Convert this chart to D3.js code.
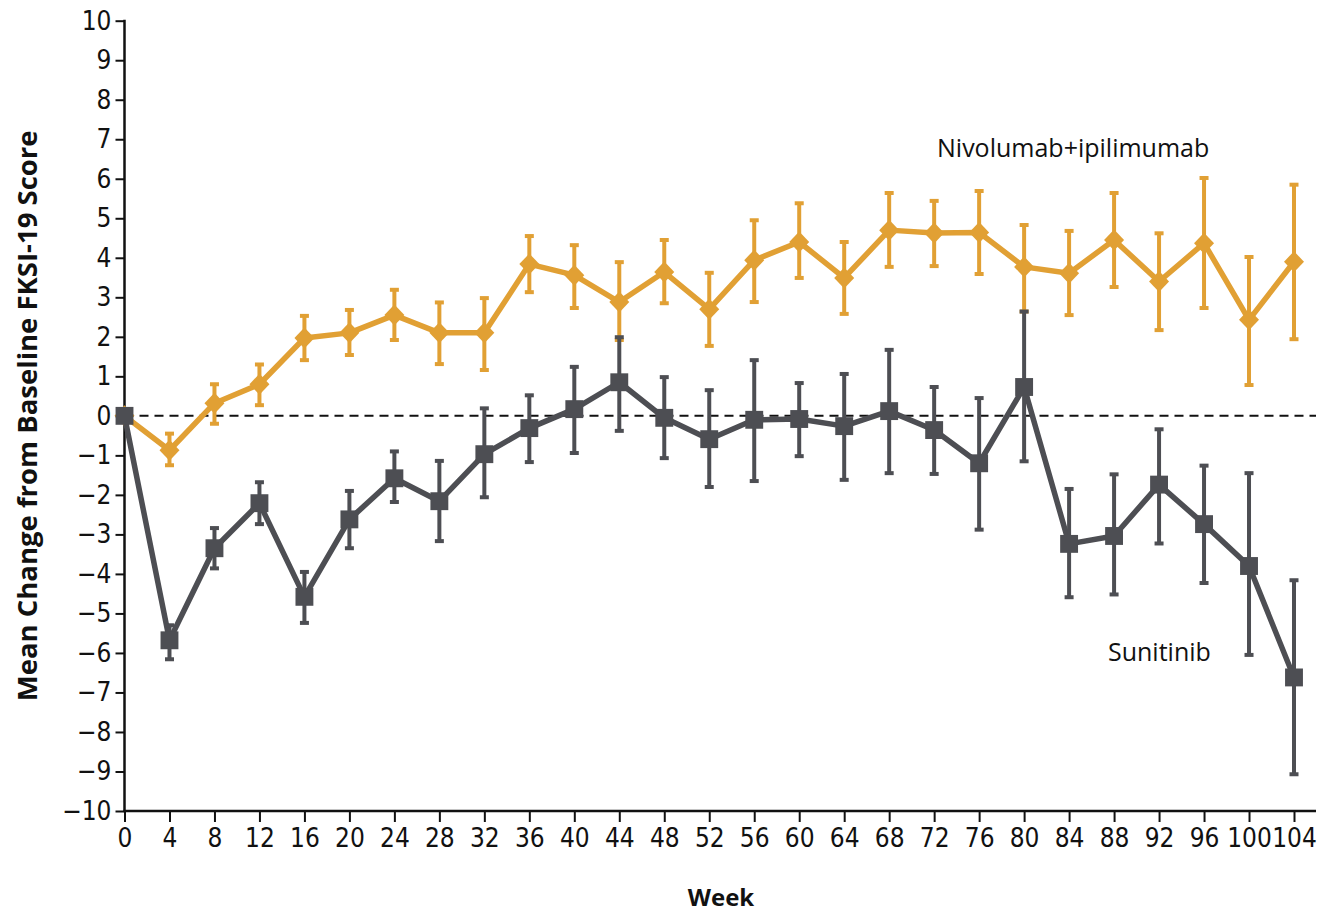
<!DOCTYPE html>
<html>
<head>
<meta charset="utf-8">
<script src="https://cdn.jsdelivr.net/npm/d3@7"></script>
<style>
  html, body { margin: 0; padding: 0; background: #ffffff; }
  svg { display: block; }
  .tick text { font-family: "Liberation Sans Narrow", "DejaVu Sans Condensed", sans-serif; font-size: 26px; fill: #111; }
  .title { font-family: "Open Sans", "DejaVu Sans", sans-serif; font-weight: 700; fill: #111; }
  .series-label { font-family: "Open Sans", "DejaVu Sans", sans-serif; fill: #111; }
</style>
</head>
<body>
<svg id="chart" width="1323" height="913"></svg>
<script>
// Assessment weeks
const weeks = [0, 4, 8, 12, 16, 20, 24, 28, 32, 36, 40, 44, 48, 52, 56, 60, 64, 68, 72, 76, 80, 84, 88, 92, 96, 100, 104];

// Nivolumab + ipilimumab: mean change and 95% CI bounds
const nivoMean  = [0, -0.87, 0.32, 0.80, 1.97, 2.10, 2.55, 2.10, 2.10, 3.84, 3.56, 2.88, 3.64, 2.70, 3.94, 4.40, 3.49, 4.70, 4.63, 4.64, 3.77, 3.61, 4.45, 3.40, 4.37, 2.43, 3.90];
const nivoUpper = [0, -0.45, 0.80, 1.30, 2.53, 2.68, 3.19, 2.87, 2.98, 4.55, 4.32, 3.89, 4.45, 3.62, 4.95, 5.38, 4.40, 5.64, 5.44, 5.69, 4.83, 4.68, 5.64, 4.62, 6.02, 4.02, 5.85];
const nivoLower = [0, -1.25, -0.20, 0.27, 1.41, 1.54, 1.92, 1.31, 1.16, 3.13, 2.73, 1.92, 2.85, 1.77, 2.88, 3.49, 2.58, 3.77, 3.79, 3.59, 2.64, 2.55, 3.26, 2.17, 2.73, 0.78, 1.94];

// Sunitinib: mean change and 95% CI bounds
const sunMean  = [0, -5.68, -3.35, -2.21, -4.58, -2.62, -1.58, -2.16, -0.97, -0.31, 0.17, 0.85, -0.05, -0.59, -0.10, -0.08, -0.26, 0.12, -0.36, -1.20, 0.73, -3.24, -3.04, -1.74, -2.74, -3.80, -6.62];
const sunUpper = [0, -5.30, -2.84, -1.68, -3.95, -1.90, -0.90, -1.14, 0.19, 0.52, 1.24, 1.99, 0.98, 0.65, 1.41, 0.83, 1.06, 1.67, 0.73, 0.45, 2.64, -1.85, -1.48, -0.34, -1.26, -1.45, -4.16];
const sunLower = [0, -6.16, -3.86, -2.74, -5.24, -3.35, -2.18, -3.17, -2.06, -1.17, -0.94, -0.38, -1.07, -1.80, -1.65, -1.02, -1.62, -1.45, -1.47, -2.88, -1.15, -4.59, -4.52, -3.23, -4.23, -6.05, -9.07];

// Axis ticks and labels
const xTicks = weeks;
const yTicks = d3.range(-10, 11, 1);
const yTitle = "Mean Change from Baseline FKSI-19 Score";
const xTitle = "Week";
const nivoName = "Nivolumab+ipilimumab";
const sunName = "Sunitinib";

const ORANGE = "#e1a034";
const GRAY = "#4d4e53";

const svg = d3.select("#chart");

const x = d3.scaleLinear().domain([0, 104]).range([124.5, 1294]);
const y = d3.scaleLinear().domain([-10, 10]).range([811, 20.7]);
const xAxisEnd = 1316;

// Reference line at zero
svg.append("line")
  .attr("x1", x(0)).attr("x2", xAxisEnd)
  .attr("y1", y(0)).attr("y2", y(0))
  .attr("stroke", "#111").attr("stroke-width", 2)
  .attr("stroke-dasharray", "9,6");

// Y axis
const yAxis = svg.append("g")
  .attr("transform", `translate(${x(0)},0)`)
  .call(d3.axisLeft(y).tickValues(yTicks).tickSize(9).tickPadding(4)
    .tickFormat(d => d < 0 ? "\u2212" + Math.abs(d) : String(d)));
yAxis.select(".domain").remove();
yAxis.selectAll(".tick line").attr("stroke", "#111").attr("stroke-width", 2);
svg.append("line")
  .attr("x1", x(0)).attr("x2", x(0))
  .attr("y1", y(10) - 1).attr("y2", y(-10) + 1)
  .attr("stroke", "#111").attr("stroke-width", 2.5);

// X axis
const xAxis = svg.append("g")
  .attr("transform", `translate(0,${y(-10)})`)
  .call(d3.axisBottom(x).tickValues(xTicks).tickSize(11).tickPadding(7));
xAxis.select(".domain").remove();
xAxis.selectAll(".tick line").attr("stroke", "#111").attr("stroke-width", 2);
svg.append("line")
  .attr("x1", x(0) - 1).attr("x2", xAxisEnd)
  .attr("y1", y(-10)).attr("y2", y(-10))
  .attr("stroke", "#111").attr("stroke-width", 2.5);

// Axis titles
svg.append("text")
  .attr("class", "title")
  .attr("transform", `translate(37,${(y(10) + y(-10)) / 2}) rotate(-90)`)
  .attr("text-anchor", "middle")
  .attr("font-size", 27.5)
  .text(yTitle);

svg.append("text")
  .attr("class", "title")
  .attr("x", 721).attr("y", 906)
  .attr("text-anchor", "middle")
  .attr("font-size", 24)
  .text(xTitle);

// Diamond marker, slightly taller than wide
const diamond = {
  draw(ctx, size) {
    const hw = Math.sqrt(size) / 2, hh = hw * 1.05;
    ctx.moveTo(0, -hh); ctx.lineTo(hw, 0); ctx.lineTo(0, hh); ctx.lineTo(-hw, 0); ctx.closePath();
  }
};

// One series: connecting line, error bars, markers
function drawSeries(mean, lower, upper, color, shape, size) {
  const g = svg.append("g");
  const pts = weeks.map((w, i) => ({ w, m: mean[i], lo: lower[i], hi: upper[i] }));

  g.append("path")
    .datum(pts)
    .attr("fill", "none")
    .attr("stroke", color)
    .attr("stroke-width", 5.5)
    .attr("stroke-linejoin", "round")
    .attr("d", d3.line().x(d => x(d.w)).y(d => y(d.m)));

  const bars = pts.filter(d => d.hi !== d.lo);
  const cap = 4.5;
  g.selectAll(".bar").data(bars).join("line")
    .attr("x1", d => x(d.w)).attr("x2", d => x(d.w))
    .attr("y1", d => y(d.hi)).attr("y2", d => y(d.lo))
    .attr("stroke", color).attr("stroke-width", 4);
  g.selectAll(".capHi").data(bars).join("line")
    .attr("x1", d => x(d.w) - cap).attr("x2", d => x(d.w) + cap)
    .attr("y1", d => y(d.hi)).attr("y2", d => y(d.hi))
    .attr("stroke", color).attr("stroke-width", 4);
  g.selectAll(".capLo").data(bars).join("line")
    .attr("x1", d => x(d.w) - cap).attr("x2", d => x(d.w) + cap)
    .attr("y1", d => y(d.lo)).attr("y2", d => y(d.lo))
    .attr("stroke", color).attr("stroke-width", 4);

  g.selectAll(".mark").data(pts).join("path")
    .attr("transform", d => `translate(${x(d.w)},${y(d.m)})`)
    .attr("fill", color)
    .attr("d", d3.symbol().type(shape).size(size));
}

drawSeries(nivoMean, nivoLower, nivoUpper, ORANGE, diamond, 400);
drawSeries(sunMean, sunLower, sunUpper, GRAY, d3.symbolSquare, 320);

// Series labels
svg.append("text")
  .attr("class", "series-label")
  .attr("x", 937).attr("y", 157)
  .attr("font-size", 25)
  .text(nivoName);

svg.append("text")
  .attr("class", "series-label")
  .attr("x", 1108).attr("y", 661)
  .attr("font-size", 25)
  .text(sunName);
</script>
</body>
</html>
